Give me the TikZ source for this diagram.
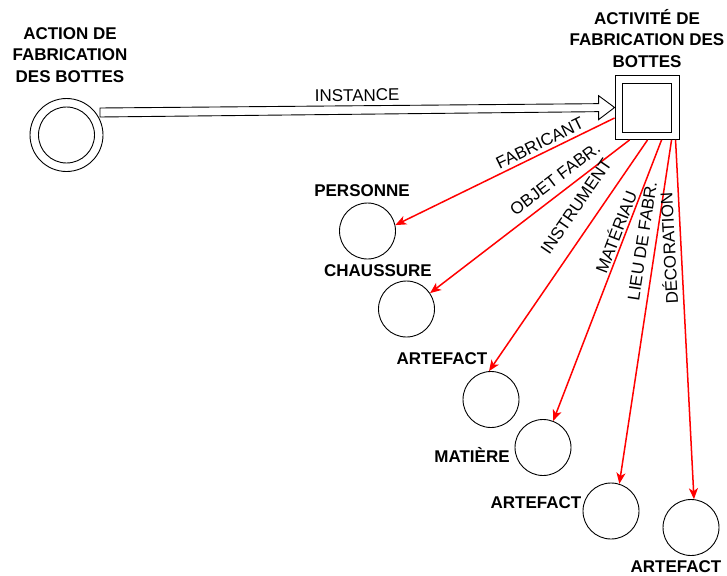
\documentclass[tikz,border=0pt]{standalone}
\usepackage{fontspec}
\setmainfont{Liberation Sans}
\usetikzlibrary{calc,arrows.meta}

\begin{document}
\begin{tikzpicture}[x=1pt,y=-1pt,
	font=\fontsize{17}{21.5}\selectfont,
	circ/.style={circle,draw,line width=0.9pt,minimum size=56pt,inner sep=0pt},
	sq/.style={rectangle,draw,line width=0.9pt,inner sep=0pt},
	ttl/.style={font=\fontsize{17}{21.5}\selectfont\bfseries,align=center,inner sep=0pt},
	rel/.style={draw=red,line width=1.5pt,-{Stealth[length=11pt,width=9pt,inset=3pt]}},
	lab/.style={sloped,inner sep=0pt}]

	\useasboundingbox (0,0) rectangle (727,575);

	    \node[circ,minimum size=73pt] (act1) at (66.5,135) {};
	    \node[circ] (act1i) at (act1) {};
	    \node[ttl] (lact1) at (70,55) {ACTION DE\\FABRICATION\\DES BOTTES};

	    \node[sq,minimum size=64pt] (act2) at (647,107.5) {};
	    \node[sq,minimum size=49pt] (act2i) at (act2) {};
	    \node[ttl] (lact2) at (647,38.5) {ACTIVITÉ DE\\FABRICATION DES\\BOTTES};

	    \node[circ] (pers) at (367.5,231) {};
	    \node[ttl] (lpers) at (362,191) {PERSONNE};
	    \node[circ] (chaus) at (406.5,309) {};
	    \node[ttl] (lchaus) at (378,271) {CHAUSSURE};
	    \node[circ] (art1) at (491,399.5) {};
	    \node[ttl] (lart1) at (442,359) {ARTEFACT};
	    \node[circ] (mat) at (543,447.5) {};
	    \node[ttl] (lmat) at (472,455) {MATIÈRE};
	    \node[circ] (art2) at (611,511) {};
	    \node[ttl] (lart2) at (536,503) {ARTEFACT};
	    \node[circ] (art3) at (691,527.5) {};
	    \node[ttl] (lart3) at (676,567) {ARTEFACT};

	    % instance arrow
	    \coordinate (inst) at ($(act1)+(33.5,-22.5)$);
	    \coordinate (insth) at ($(act2.west)!16pt!(inst)$);
	    \draw[line width=0.9pt] ($(inst)+(0,-4.5)$) -- ($(insth)+(0,-4)$) -- ($(insth)+(0,-12)$)
	        -- (act2.west) -- ($(insth)+(0,12)$) -- ($(insth)+(0,4)$) -- ($(inst)+(0,4.5)$) -- cycle;
	    \path (inst) -- node[lab,midway,above=8.5pt] (linst) {INSTANCE} (act2.west);

	    \draw[rel] ($(act2.west)+(0,10.5)$) -- node[lab,pos=0.32,above=3.5pt] (lfab) {FABRICANT} (pers.12);
	    \draw[rel] ($(act2.south west)+(15,0)$) -- node[lab,pos=0.33,above=7.5pt] (lobj) {OBJET FABR.} (chaus.34);
	    \draw[rel] ($(act2.south west)+(33,0)$) -- node[lab,pos=0.34,above=14.5pt] (linstr) {INSTRUMENT} (art1.94);
	    \draw[rel] ($(act2.south west)+(47,0)$) -- node[lab,pos=0.34,above=2pt] (lmatr) {MATÉRIAU} (mat.69);
	    \draw[rel] ($(act2.south west)+(57,0)$) -- node[lab,pos=0.3,above=7pt] (llieu) {LIEU DE FABR.} (art2.73);
	    \draw[rel] ($(act2.south west)+(61,0)$) -- node[lab,rotate=180,pos=0.3,above=5pt] (ldeco) {DÉCORATION} (art3.84);

\end{tikzpicture}
\end{document}
